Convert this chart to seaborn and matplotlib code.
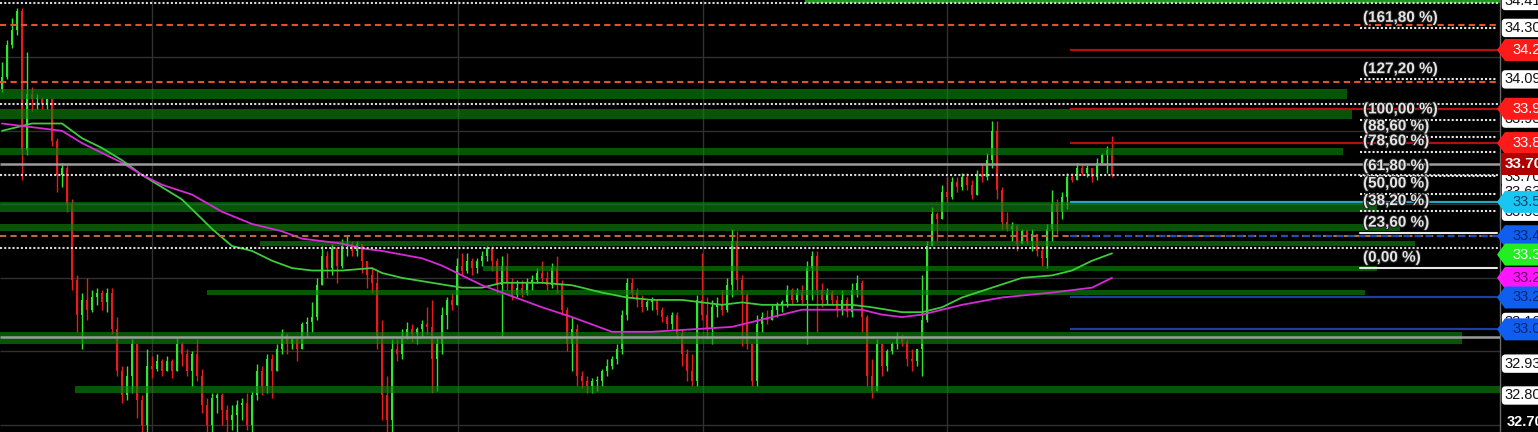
import numpy as np
import pandas as pd
import matplotlib
matplotlib.use("Agg")
import matplotlib.pyplot as plt
import seaborn as sns
from matplotlib.patches import Polygon
import matplotlib.patheffects as pe

# ---------------- data ----------------
first_open = 34.05
close = [34.10, 34.23, 34.29, 34.37, 33.80, 34.03, 34.01, 34.01, 33.99, 34.01,
         33.84, 33.70, 33.73, 33.58, 33.27, 33.13, 33.19, 33.15, 33.20, 33.22,
         33.18, 33.22, 33.07, 32.90, 32.80, 32.88, 33.01, 32.78, 32.68, 32.92,
         32.91, 32.94, 32.90, 32.94, 32.90, 33.01, 32.97, 32.90, 32.97, 32.88,
         32.76, 32.68, 32.79, 32.80, 32.74, 32.70, 32.72, 32.76, 32.77, 32.68,
         32.80, 32.90, 32.84, 32.95, 32.90, 32.99, 33.05, 33.01, 33.03, 32.99,
         33.09, 33.10, 33.12, 33.25, 33.37, 33.32, 33.40, 33.33, 33.41, 33.42,
         33.39, 33.42, 33.35, 33.29, 33.26, 33.03, 32.80, 32.70, 32.99, 32.97,
         33.04, 33.07, 33.05, 33.07, 33.09, 33.08, 32.95, 33.01, 33.13, 33.19,
         33.17, 33.33, 33.31, 33.35, 33.32, 33.35, 33.37, 33.40, 33.35, 33.25,
         33.33, 33.26, 33.21, 33.24, 33.22, 33.26, 33.27, 33.30, 33.28, 33.25,
         33.32, 33.25, 33.15, 33.01, 33.07, 32.88, 32.86, 32.84, 32.86, 32.86,
         32.90, 32.92, 32.95, 32.99, 33.13, 33.26, 33.22, 33.19, 33.16, 33.18,
         33.19, 33.15, 33.12, 33.09, 33.13, 33.05, 32.97, 32.90, 32.86, 33.19,
         33.13, 33.07, 33.16, 33.17, 33.15, 33.25, 33.43, 33.27, 33.21, 33.01,
         32.86, 33.09, 33.12, 33.11, 33.15, 33.17, 33.18, 33.23, 33.19, 33.22,
         33.19, 33.32, 33.37, 33.23, 33.19, 33.22, 33.19, 33.15, 33.19, 33.14,
         33.23, 33.26, 33.12, 32.88, 32.82, 33.01, 32.92, 32.98, 33.01, 33.04,
         33.02, 32.95, 32.94, 32.99, 33.11, 33.41, 33.54, 33.52, 33.63, 33.61,
         33.67, 33.65, 33.69, 33.66, 33.62, 33.70, 33.69, 33.76, 33.88, 33.64,
         33.51, 33.48, 33.49, 33.42, 33.47, 33.43, 33.46, 33.39, 33.36, 33.48,
         33.58, 33.55, 33.61, 33.69, 33.68, 33.73, 33.71, 33.73, 33.69, 33.75,
         33.78, 33.80, 33.70]
high = [34.16, 34.25, 34.34, 34.38, 34.38, 34.20, 34.06, 34.03, 34.02, 34.01,
        34.01, 33.85, 33.75, 33.74, 33.60, 33.29, 33.22, 33.28, 33.23, 33.24,
        33.23, 33.24, 33.24, 33.12, 32.92, 32.92, 33.03, 33.01, 32.80, 32.99,
        32.96, 32.97, 32.95, 32.96, 32.95, 33.04, 33.02, 32.99, 32.98, 33.03,
        32.91, 32.79, 32.81, 32.81, 32.81, 32.76, 32.76, 32.78, 32.79, 32.81,
        32.82, 32.93, 32.92, 32.97, 32.97, 33.01, 33.07, 33.05, 33.04, 33.04,
        33.10, 33.12, 33.18, 33.28, 33.41, 33.39, 33.42, 33.41, 33.44, 33.45,
        33.43, 33.43, 33.42, 33.35, 33.32, 33.31, 33.11, 32.88, 33.03, 33.03,
        33.07, 33.10, 33.09, 33.08, 33.11, 33.16, 33.19, 33.04, 33.16, 33.20,
        33.22, 33.36, 33.38, 33.38, 33.36, 33.36, 33.39, 33.41, 33.41, 33.36,
        33.37, 33.38, 33.28, 33.27, 33.27, 33.28, 33.29, 33.32, 33.35, 33.31,
        33.34, 33.37, 33.27, 33.16, 33.12, 33.09, 32.90, 32.88, 32.87, 32.88,
        32.91, 32.95, 32.96, 33.01, 33.15, 33.28, 33.28, 33.24, 33.21, 33.19,
        33.20, 33.19, 33.16, 33.13, 33.14, 33.14, 33.07, 32.99, 32.97, 33.21,
        33.38, 33.20, 33.19, 33.20, 33.23, 33.28, 33.48, 33.47, 33.29, 33.22,
        33.01, 33.13, 33.14, 33.15, 33.17, 33.18, 33.19, 33.25, 33.24, 33.24,
        33.25, 33.35, 33.39, 33.39, 33.26, 33.24, 33.23, 33.21, 33.23, 33.20,
        33.26, 33.29, 33.27, 33.13, 32.95, 33.03, 33.01, 32.99, 33.02, 33.06,
        33.05, 33.03, 32.99, 32.99, 33.29, 33.43, 33.57, 33.55, 33.66, 33.69,
        33.69, 33.69, 33.71, 33.71, 33.68, 33.72, 33.75, 33.79, 33.92, 33.92,
        33.65, 33.55, 33.51, 33.50, 33.48, 33.48, 33.48, 33.46, 33.41, 33.50,
        33.64, 33.60, 33.63, 33.71, 33.71, 33.75, 33.74, 33.74, 33.73, 33.77,
        33.79, 33.82, 33.86]
low = [34.04, 34.09, 34.22, 34.27, 33.68, 33.78, 33.96, 33.97, 33.97, 33.97,
       33.82, 33.63, 33.65, 33.55, 33.23, 33.06, 32.99, 33.11, 33.14, 33.17,
       33.15, 33.14, 33.05, 32.88, 32.77, 32.78, 32.81, 32.71, 32.64, 32.65,
       32.87, 32.90, 32.88, 32.90, 32.87, 32.90, 32.92, 32.88, 32.84, 32.86,
       32.73, 32.64, 32.65, 32.73, 32.68, 32.65, 32.66, 32.65, 32.70, 32.66,
       32.65, 32.78, 32.80, 32.81, 32.79, 32.90, 32.97, 32.97, 32.99, 32.94,
       32.99, 33.04, 33.06, 33.11, 33.25, 33.28, 33.29, 33.26, 33.32, 33.37,
       33.37, 33.37, 33.30, 33.24, 33.22, 32.99, 32.70, 32.65, 32.65, 32.94,
       32.95, 33.03, 33.02, 33.01, 33.04, 33.05, 32.81, 32.82, 32.97, 33.07,
       33.15, 33.17, 33.29, 33.30, 33.29, 33.30, 33.33, 33.35, 33.31, 33.22,
       33.04, 33.23, 33.19, 33.20, 33.20, 33.21, 33.23, 33.26, 33.26, 33.23,
       33.24, 33.22, 33.13, 32.98, 32.90, 32.84, 32.83, 32.81, 32.81, 32.82,
       32.84, 32.88, 32.91, 32.93, 32.97, 33.11, 33.20, 33.16, 33.14, 33.15,
       33.15, 33.13, 33.10, 33.07, 33.07, 33.03, 32.92, 32.86, 32.84, 32.84,
       33.11, 33.03, 33.01, 33.12, 33.13, 33.14, 33.20, 33.23, 33.00, 32.99,
       32.84, 32.84, 33.06, 33.09, 33.11, 33.12, 33.14, 33.16, 33.17, 33.18,
       33.17, 33.01, 33.19, 33.06, 33.16, 33.17, 33.17, 33.12, 33.13, 33.12,
       33.12, 33.20, 33.06, 32.84, 32.79, 32.82, 32.88, 32.90, 32.97, 32.99,
       33.00, 32.92, 32.90, 32.92, 32.88, 33.10, 33.41, 33.43, 33.52, 33.59,
       33.60, 33.63, 33.64, 33.64, 33.60, 33.62, 33.67, 33.68, 33.73, 33.60,
       33.48, 33.47, 33.43, 33.39, 33.43, 33.42, 33.39, 33.37, 33.33, 33.32,
       33.43, 33.46, 33.52, 33.56, 33.67, 33.68, 33.70, 33.69, 33.67, 33.68,
       33.74, 33.71, 33.69]

ma_fast_idx = [0, 6, 12, 16, 20, 24, 28, 32, 36, 38, 42, 46, 50, 54, 58, 62, 68, 74, 76, 80,
               86, 92, 96, 100, 108, 114, 120, 125, 130, 136, 144, 148, 152, 160, 170,
               174, 180, 184, 188, 192, 198, 204, 210, 214, 218, 222]
ma_fast_val = [33.88, 33.91, 33.91, 33.85, 33.81, 33.76, 33.70, 33.65, 33.60, 33.56,
               33.48, 33.41, 33.39, 33.35, 33.32, 33.31, 33.31, 33.32, 33.30, 33.28,
               33.26, 33.24, 33.24, 33.26, 33.26, 33.25, 33.22, 33.20, 33.19, 33.19,
               33.17, 33.18, 33.17, 33.17, 33.17, 33.16, 33.14, 33.14, 33.16, 33.20,
               33.24, 33.28, 33.29, 33.31, 33.35, 33.38]
ma_slow_idx = [0, 4, 8, 12, 16, 20, 24, 28, 32, 38, 44, 50, 56, 60, 64, 68, 72, 76, 84, 88,
               92, 96, 100, 104, 108, 114, 118, 122, 130, 138, 146, 152, 156, 160, 166,
               172, 176, 180, 184, 188, 192, 200, 210, 218, 222]
ma_slow_val = [33.91, 33.90, 33.89, 33.88, 33.83, 33.79, 33.75, 33.70, 33.66, 33.62,
               33.55, 33.50, 33.47, 33.44, 33.43, 33.42, 33.40, 33.39, 33.36, 33.33,
               33.29, 33.25, 33.22, 33.19, 33.16, 33.12, 33.09, 33.06, 33.06, 33.07,
               33.08, 33.11, 33.13, 33.15, 33.15, 33.15, 33.13, 33.12, 33.13, 33.15,
               33.17, 33.20, 33.22, 33.24, 33.28]

# support / resistance zones (price range, bar index range)
zone_lo = [34.01, 33.93, 33.78, 33.55, 33.47, 33.41, 33.31, 33.21, 33.01, 32.81]
zone_hi = [34.05, 33.97, 33.81, 33.59, 33.50, 33.43, 33.33, 33.23, 33.06, 32.84]
zone_from = [-0.4, -0.4, -0.4, -0.4, -0.4, 51.6, 96.2, 41.0, -0.4, 14.6]
zone_to = [269.0, 270.0, 268.2, 275.0, 279.6, 282.6, 275.0, 272.6, 292.0, 299.6]

dotted_levels = [34.40, 33.99, 33.70, 33.40]
dashed_levels = [34.31, 34.08, 33.45]
gray_levels = [33.745, 33.04]
grid_levels = [34.18, 33.88, 33.58, 33.28, 32.98, 32.68]
session_idx = [30, 91.2, 140.2, 189]
right_levels = [34.21, 33.97, 33.83, 33.59, 33.45, 33.20, 33.07]

fib_ratios = [0.0, 23.6, 38.2, 50.0, 61.8, 78.6, 88.6, 100.0, 127.2, 161.8]
fib_labels = ["(0,00 %)", "(23,60 %)", "(38,20 %)", "(50,00 %)", "(61,80 %)",
              "(78,60 %)", "(88,60 %)", "(100,00 %)", "(127,20 %)", "(161,80 %)"]
fib_low, fib_high = 33.32, 33.925

axis_tags = [(34.41, "34.41"), (34.30, "34.30"), (34.09, "34.09"), (33.93, "33.93"),
             (33.69, "33.70"), (33.63, "33.63"), (33.55, "33.55"), (33.10, "33.10"),
             (32.93, "32.93"), (32.80, "32.80")]
color_tags = [(34.21, "34.21", "#ff1a1a", "white"), (33.97, "33.97", "#ff1a1a", "white"),
              (33.83, "33.83", "#ff1a1a", "white"), (33.59, "33.59", "#18c6f2", "#0b4470"),
              (33.45, "33.45", "#0f5ef0", "#06286e"), (33.375, "33.38", "#22ee22", "white"),
              (33.28, "33.28", "#ff16ff", "#6a006a"), (33.20, "33.20", "#0f5ef0", "#06286e"),
              (33.07, "33.07", "#0f5ef0", "#06286e")]
last_price, last_text = 33.745, "33.70"

# ---------------- style ----------------
sns.set_style("dark")
plt.rcParams['font.family'] = ['Liberation Sans', 'DejaVu Sans']

W, H = 1538, 432
fig = plt.figure(figsize=(W / 100, H / 100), dpi=100)
fig.patch.set_facecolor('black')
ax = fig.add_axes([0, 0, 1500 / W, 1])
ax.set_facecolor('black')
ax.set_xlim(-0.4, 299.6)
ax.set_ylim(32.651, 34.414)
ax.set_xticks([]); ax.set_yticks([])
ax.grid(False)
for s in ['top', 'left', 'bottom']:
    ax.spines[s].set_visible(False)
ax.spines['right'].set_color('#6a6a6a')
ax.spines['right'].set_linewidth(1)
ytr = ax.get_yaxis_transform()
px = 1 / 1500  # axes fraction per pixel

# grid
ax.hlines(grid_levels, -0.4, 299.6, color='#303030', lw=1, zorder=0)
ax.vlines(session_idx, 32.651, 34.414, color='#303030', lw=1, zorder=0)

# candles
df = pd.DataFrame({'close': close, 'high': high, 'low': low})
df['open'] = [first_open] + close[:-1]
df['idx'] = np.arange(len(df))
up = df['close'] >= df['open']
cols = np.where(up, '#2ee62e', '#e61c1c')
ax.vlines(df['idx'], df['low'], df['high'], colors=cols, lw=1, zorder=2)
body_lo = np.minimum(df['open'], df['close'])
body_h = np.maximum((df['close'] - df['open']).abs(), 0.004)
ax.bar(df['idx'], body_h, bottom=body_lo, width=0.5, color=cols, linewidth=0, zorder=2)

# zones
for lo, hi, a, b in zip(zone_lo, zone_hi, zone_from, zone_to):
    ax.fill_between([a, b], lo, hi, color='#0e860e', alpha=0.64, lw=0, zorder=3)
ax.hlines(34.41, 160.6, 299.6, color='#1b9a1b', lw=3, zorder=3)

# moving averages
sns.lineplot(x=ma_fast_idx, y=ma_fast_val, ax=ax, color='#3ccc3c', lw=1.3, zorder=4)
sns.lineplot(x=ma_slow_idx, y=ma_slow_val, ax=ax, color='#d62ad6', lw=1.3, zorder=4)

# horizontal levels
ax.hlines(dotted_levels, -0.4, 299.6, color='#d8d8d8', lw=1.5, linestyles=(0, (1, 1)), zorder=5)
ax.hlines(dashed_levels[:2], -0.4, 299.6, color='#e0522a', lw=1.5, linestyles=(0, (3, 2)), zorder=5)
ax.hlines(dashed_levels[2:], -0.4, 299.6, color='#b86a3a', lw=1.5, linestyles=(0, (3, 2)), zorder=5)
ax.hlines(gray_levels, -0.4, 299.6, color='#9c9c9c', lw=1.8, zorder=5)

r_colors = ['#b01010', '#b01010', '#b01010', '#22a8c2', '#1f4fb0', '#1f3fa0', '#1f3fa0']
r_styles = ['solid', 'solid', 'solid', 'solid', (0, (3, 2)), 'solid', 'solid']
for lv, c, st in zip(right_levels, r_colors, r_styles):
    ax.hlines(lv, 213.6, 299.6, color=c, lw=1.6, linestyles=st, zorder=6)

# fibonacci tool
for r, lab in zip(fib_ratios, fib_labels):
    lv = fib_low + r / 100 * (fib_high - fib_low)
    st = 'solid' if r in (0.0, 23.6) else (0, (1, 1))
    ax.plot([1360 * px, 1497 * px], [lv, lv], transform=ytr, color='#e8e8e8', lw=1.5,
            linestyle=st, zorder=6)
    t = ax.annotate(lab, xy=(1363 * px, lv), xycoords=ytr, xytext=(0, 7.5),
                    textcoords='offset points', va='center', ha='left', fontsize=11,
                    fontweight='bold', color='#e4e4e4', zorder=7)
    t.set_path_effects([pe.withStroke(linewidth=1.5, foreground='#202020')])

# right price scale tags
hh = 11 / 245
for p, s in axis_tags:
    ax.text(1504 * px, p, s, transform=ytr, fontsize=10.5, color='#111111', va='center',
            ha='left', clip_on=False, zorder=8,
            bbox=dict(boxstyle='round,pad=0.15,rounding_size=0.25', fc='white', ec='none'))
ax.text(1507 * px, 32.69, "32.70", transform=ytr, fontsize=10.5, color='white',
        fontweight='bold', va='center', ha='left', clip_on=False, zorder=8)

for p, s, fc, tc in color_tags:
    poly = Polygon([(1497 * px, p), (1505 * px, p + hh), (1570 * px, p + hh),
                    (1570 * px, p - hh), (1505 * px, p - hh)], closed=True,
                   transform=ytr, fc=fc, ec='none', clip_on=False, zorder=9)
    ax.add_patch(poly)
    ax.text(1512 * px, p, s, transform=ytr, fontsize=10.5, color=tc, va='center',
            ha='left', clip_on=False, zorder=10)

poly = Polygon([(1501 * px, last_price + hh), (1570 * px, last_price + hh),
                (1570 * px, last_price - hh), (1501 * px, last_price - hh)], closed=True,
               transform=ytr, fc='#b00000', ec='none', clip_on=False, zorder=9)
ax.add_patch(poly)
ax.text(1505 * px, last_price, last_text, transform=ytr, fontsize=11, color='white',
        fontweight='bold', va='center', ha='left', clip_on=False, zorder=10)

fig.savefig('out.png', dpi=100, facecolor='black')
